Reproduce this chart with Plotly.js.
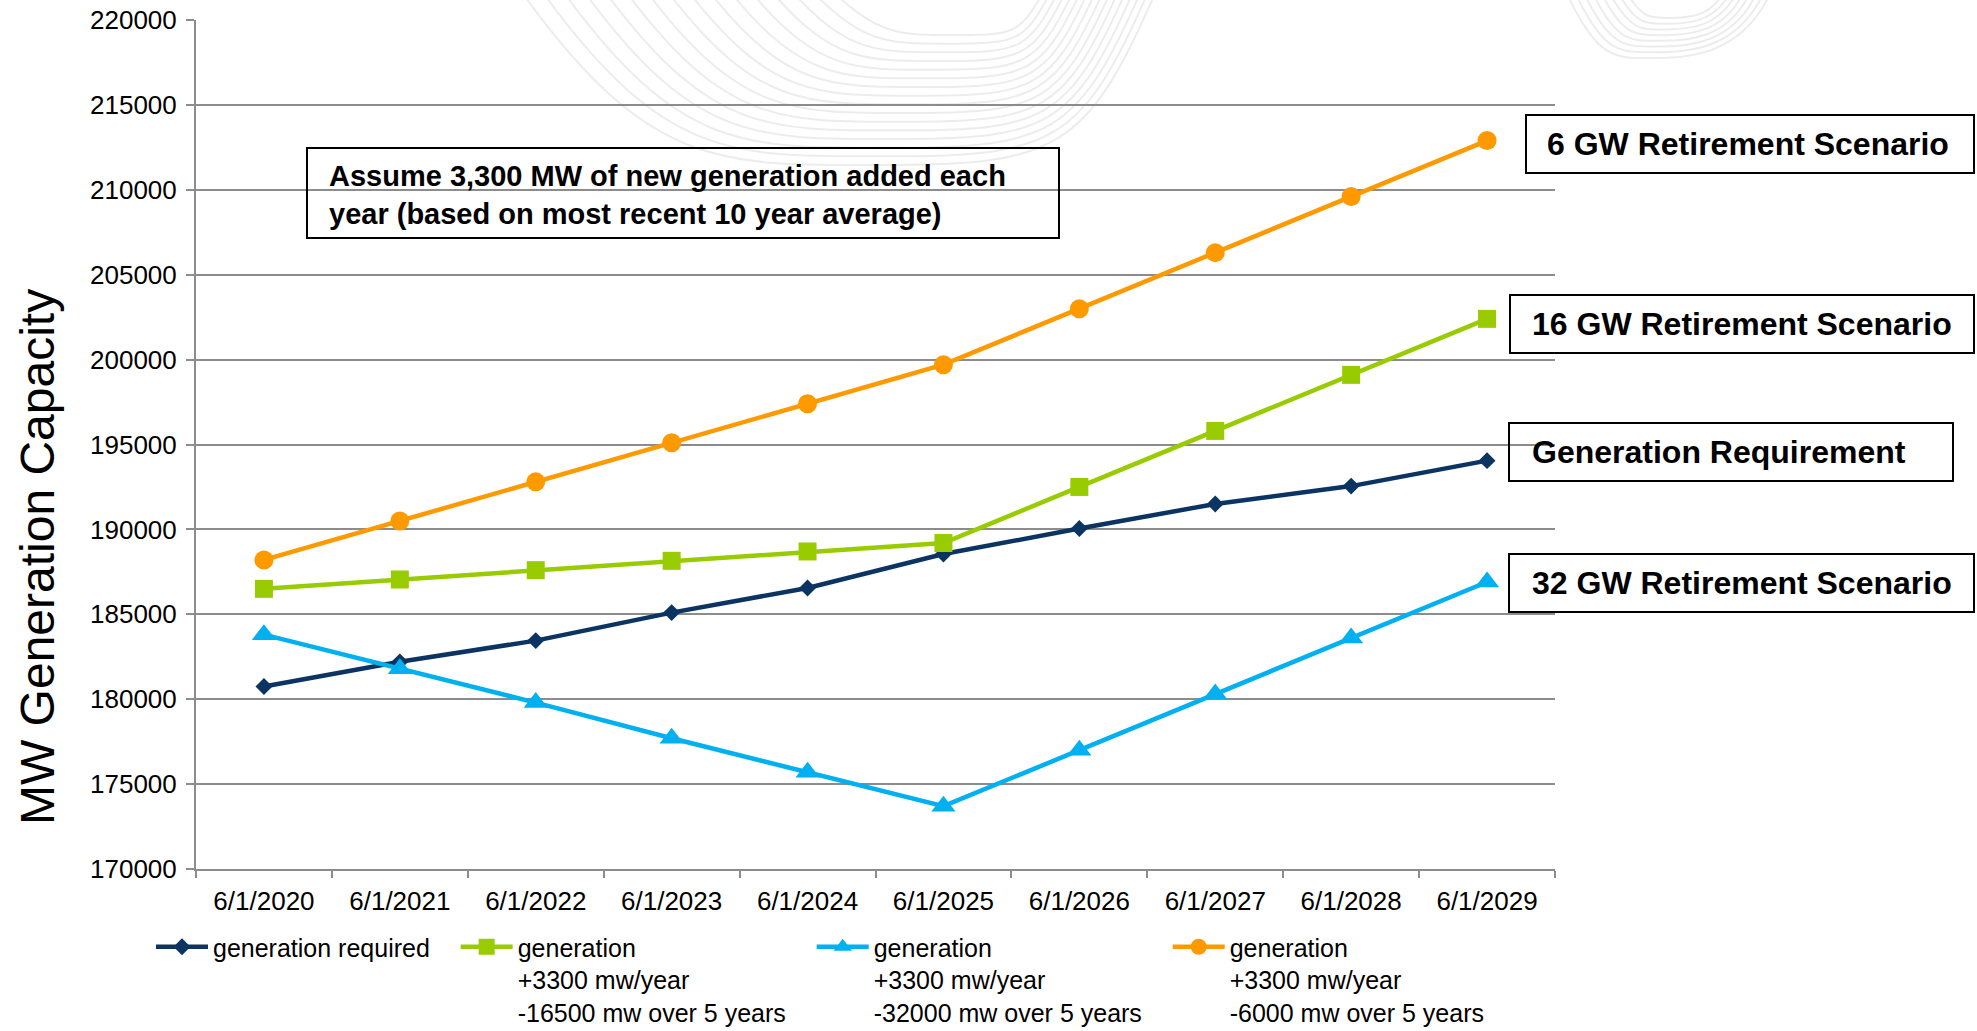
<!DOCTYPE html>
<html>
<head>
<meta charset="utf-8">
<script src="https://cdn.plot.ly/plotly-3.0.1.min.js"></script>
<style>
html,body{margin:0;padding:0;background:#ffffff;}
#chart{width:1977px;height:1031px;}
</style>
</head>
<body>
<div id="chart"></div>
<script>
// ---- data ----
const categories = ['6/1/2020','6/1/2021','6/1/2022','6/1/2023','6/1/2024','6/1/2025','6/1/2026','6/1/2027','6/1/2028','6/1/2029'];
const generationRequired = [180750, 182200, 183450, 185100, 186550, 188550, 190050, 191500, 192550, 194050];
const generation16500 = [186500, 187050, 187600, 188150, 188700, 189200, 192500, 195800, 199100, 202400];
const generation32000 = [183800, 181800, 179800, 177700, 175700, 173700, 177000, 180300, 183600, 186900];
const generation6000 = [188200, 190500, 192800, 195100, 197400, 199700, 203000, 206300, 209600, 212900];
const NB = '\u00a0\u00a0\u00a0';
const seriesNames = [
  'generation required' + NB,
  'generation<br>+3300 mw/year<br>-16500 mw over 5 years' + NB,
  'generation<br>+3300 mw/year<br>-32000 mw over 5 years' + NB,
  'generation<br>+3300 mw/year<br>-6000 mw over 5 years'
];
const yTicks = [170000,175000,180000,185000,190000,195000,200000,205000,210000,215000,220000];

// ---- layout helpers (pixel -> paper) ----
const L = 196, T = 20, W = 1359, H = 849;
const X = px => (px - L) / W;
const Y = py => (T + H - py) / H;
const FONT = 'Liberation Sans, Arial, sans-serif';

function rectBox(x0, y0, x1, y1) {
  return {type:'rect', xref:'paper', yref:'paper', x0:X(x0), x1:X(x1), y0:Y(y1), y1:Y(y0),
          line:{color:'#000000', width:2}, fillcolor:'rgba(0,0,0,0)', layer:'above'};
}
function label(text, x, y, size) {
  return {text:text, xref:'paper', yref:'paper', x:X(x), y:Y(y), xanchor:'left', yanchor:'middle',
          align:'left', showarrow:false, font:{family:FONT, size:size, color:'#000000'}};
}
// faint watermark arcs (decorative background logo)
function arcs(n, xl0, xl1, xr0, xr1, yb0, yb1, bx0, bx1) {
  const out = [];
  for (let i = 0; i < n; i++) {
    const t = i / (n - 1);
    const xl = xl0 + t * (xl1 - xl0), xr = xr0 + t * (xr1 - xr0), yb = yb0 + t * (yb1 - yb0);
    const bx = bx0 + t * (bx1 - bx0);
    out.push({type:'path', xref:'paper', yref:'paper', layer:'below',
      path:`M${X(xl)},${Y(-2)} C${X(xl + (bx - xl) * 0.35)},${Y(yb * 1.05)} ${X(bx - (bx - xl) * 0.45)},${Y(yb)} ${X(bx)},${Y(yb)} ` +
           `S${X(xr - (xr - bx) * 0.25)},${Y(yb * 0.9)} ${X(xr)},${Y(-2)}`,
      line:{color:'rgba(0,0,0,0.075)', width:2}});
  }
  return out;
}

const common = {x:categories, type:'scatter', mode:'lines+markers', cliponaxis:false};
const traces = [
  Object.assign({}, common, {y:generationRequired, name:seriesNames[0],
    line:{color:'#0b3463', width:4.5}, marker:{symbol:'diamond', size:13, color:'#0b3463'}}),
  Object.assign({}, common, {y:generation16500, name:seriesNames[1],
    line:{color:'#99cc00', width:4.5}, marker:{symbol:'square', size:18, color:'#99cc00'}}),
  Object.assign({}, common, {y:generation32000, name:seriesNames[2],
    line:{color:'#00b0f0', width:4.5}, marker:{symbol:'triangle-up', size:21, color:'#00b0f0'}}),
  Object.assign({}, common, {y:generation6000, name:seriesNames[3],
    line:{color:'#ff9900', width:4.5}, marker:{symbol:'circle', size:19, color:'#ff9900'}})
];

const shapes = [].concat(
  arcs(16, 526, 840, 1153, 1040, 165, 35, 890, 960),
  arcs(8, 1569, 1630, 1768, 1720, 58, 18, 1655, 1670),
  [
    rectBox(307, 148, 1059, 238),
    rectBox(1526, 115, 1974, 173),
    rectBox(1510, 295, 1974, 353),
    rectBox(1509, 423, 1953, 481),
    rectBox(1509, 554, 1974, 612)
  ]
);

const annotations = [
  label('<b>Assume 3,300 MW of new generation added each<br>year (based on most recent 10 year average)</b>', 327, 194.5, 29),
  label('<b>6 GW Retirement Scenario</b>', 1545, 144, 32),
  label('<b>16 GW Retirement Scenario</b>', 1530, 324, 32),
  label('<b>Generation Requirement</b>', 1530, 452, 32),
  label('<b>32 GW Retirement Scenario</b>', 1530, 583, 32),
  {text:'MW Generation Capacity', xref:'paper', yref:'paper', x:X(37), y:Y(557),
   xanchor:'center', yanchor:'middle', textangle:-90, showarrow:false,
   font:{family:FONT, size:48, color:'#000000'}}
];

const layout = {
  width:1977, height:1031,
  margin:{l:L, r:1977 - L - W, t:T, b:1031 - T - H, pad:0},
  paper_bgcolor:'#ffffff', plot_bgcolor:'rgba(0,0,0,0)',
  font:{family:FONT, size:25, color:'#000000'},
  showlegend:true,
  legend:{orientation:'h', xref:'container', yref:'container', x:151/1977, y:1 - 924/1031,
          xanchor:'left', yanchor:'top', valign:'top', itemwidth:52, traceorder:'normal',
          font:{family:FONT, size:25, color:'#000000'}, bgcolor:'rgba(0,0,0,0)', borderwidth:0},
  xaxis:{type:'category', range:[-0.5, 9.5], showgrid:false, zeroline:false,
         showline:true, linecolor:'#8c8c8c', linewidth:2,
         ticks:'outside', tickson:'boundaries', ticklen:7, tickcolor:'#8c8c8c', tickwidth:2,
         ticklabelstandoff:8,
         tickfont:{family:FONT, size:26, color:'#000000'}, fixedrange:true},
  yaxis:{range:[170000, 220000], tickvals:yTicks, ticktext:yTicks.map(String),
         showgrid:true, gridcolor:'#8c8c8c', gridwidth:2, zeroline:false,
         showline:true, linecolor:'#8c8c8c', linewidth:2,
         ticks:'outside', ticklen:8, tickcolor:'#8c8c8c', tickwidth:2,
         ticklabelstandoff:4,
         tickfont:{family:FONT, size:26, color:'#000000'},
         fixedrange:true},
  shapes:shapes,
  annotations:annotations
};

Plotly.newPlot('chart', traces, layout, {displayModeBar:false, staticPlot:true});
</script>
</body>
</html>
